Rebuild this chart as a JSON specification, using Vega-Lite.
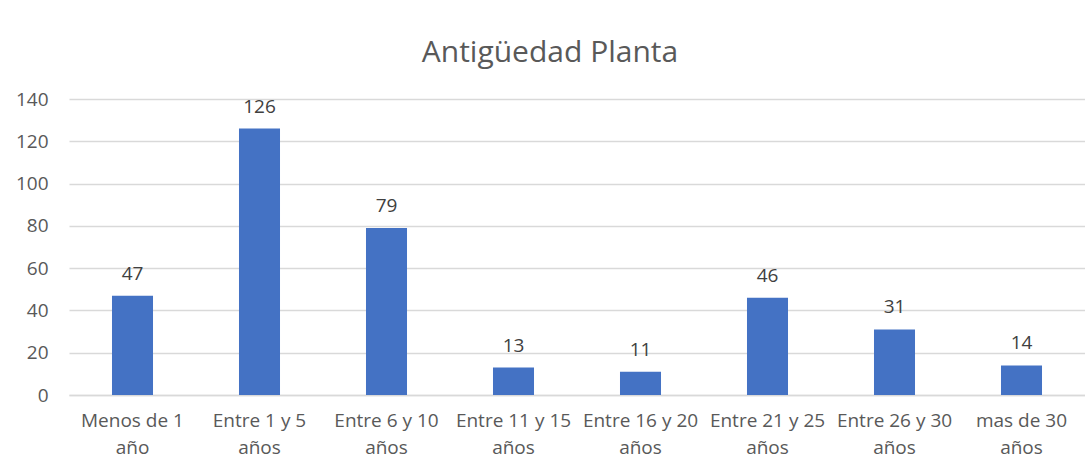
{
  "$schema": "https://vega.github.io/schema/vega-lite/v6.json",
  "width": 1016,
  "height": 296,
  "autosize": {"type": "none"},
  "padding": {"left": 69, "top": 99, "right": 0, "bottom": 66},
  "background": "white",
  "title": {
    "text": "Antigüedad Planta",
    "fontSize": 30,
    "font": "Open Sans",
    "fontWeight": "normal",
    "color": "#595959",
    "anchor": "middle",
    "dx": -27,
    "offset": 22
  },
  "data": {
    "values": [
      {"categoria": "Menos de 1 año", "cantidad": 47},
      {"categoria": "Entre 1 y 5 años", "cantidad": 126},
      {"categoria": "Entre 6 y 10 años", "cantidad": 79},
      {"categoria": "Entre 11 y 15 años", "cantidad": 13},
      {"categoria": "Entre 16 y 20 años", "cantidad": 11},
      {"categoria": "Entre 21 y 25 años", "cantidad": 46},
      {"categoria": "Entre 26 y 30 años", "cantidad": 31},
      {"categoria": "mas de 30 años", "cantidad": 14}
    ]
  },
  "encoding": {
    "x": {
      "field": "categoria",
      "type": "nominal",
      "sort": null,
      "scale": {"paddingInner": 0.677, "paddingOuter": 0.3385},
      "axis": {
        "title": null,
        "labelAngle": 0,
        "ticks": false,
        "domain": true,
        "domainColor": "#D9D9D9",
        "domainWidth": 1.5,
        "labelFont": "Open Sans",
        "labelFontSize": 19,
        "labelColor": "#595959",
        "labelPadding": 16,
        "labelLineHeight": 27,
        "labelLimit": 200,
        "labelExpr": "[slice(datum.label, 0, lastindexof(datum.label, ' ')), slice(datum.label, lastindexof(datum.label, ' ') + 1)]"
      }
    },
    "y": {
      "field": "cantidad",
      "type": "quantitative",
      "scale": {"domain": [0, 140]},
      "axis": {
        "title": null,
        "values": [0, 20, 40, 60, 80, 100, 120, 140],
        "ticks": false,
        "domain": false,
        "gridColor": "#D9D9D9",
        "gridWidth": 1.5,
        "labelFont": "Open Sans",
        "labelFontSize": 19,
        "labelColor": "#595959",
        "labelPadding": 21
      }
    }
  },
  "layer": [
    {"mark": {"type": "bar", "color": "#4472C4"}},
    {
      "mark": {"type": "text", "baseline": "bottom", "dy": -12, "font": "Open Sans", "fontSize": 19, "color": "#404040"},
      "encoding": {"text": {"field": "cantidad", "type": "quantitative"}}
    }
  ],
  "config": {"view": {"stroke": null}}
}
